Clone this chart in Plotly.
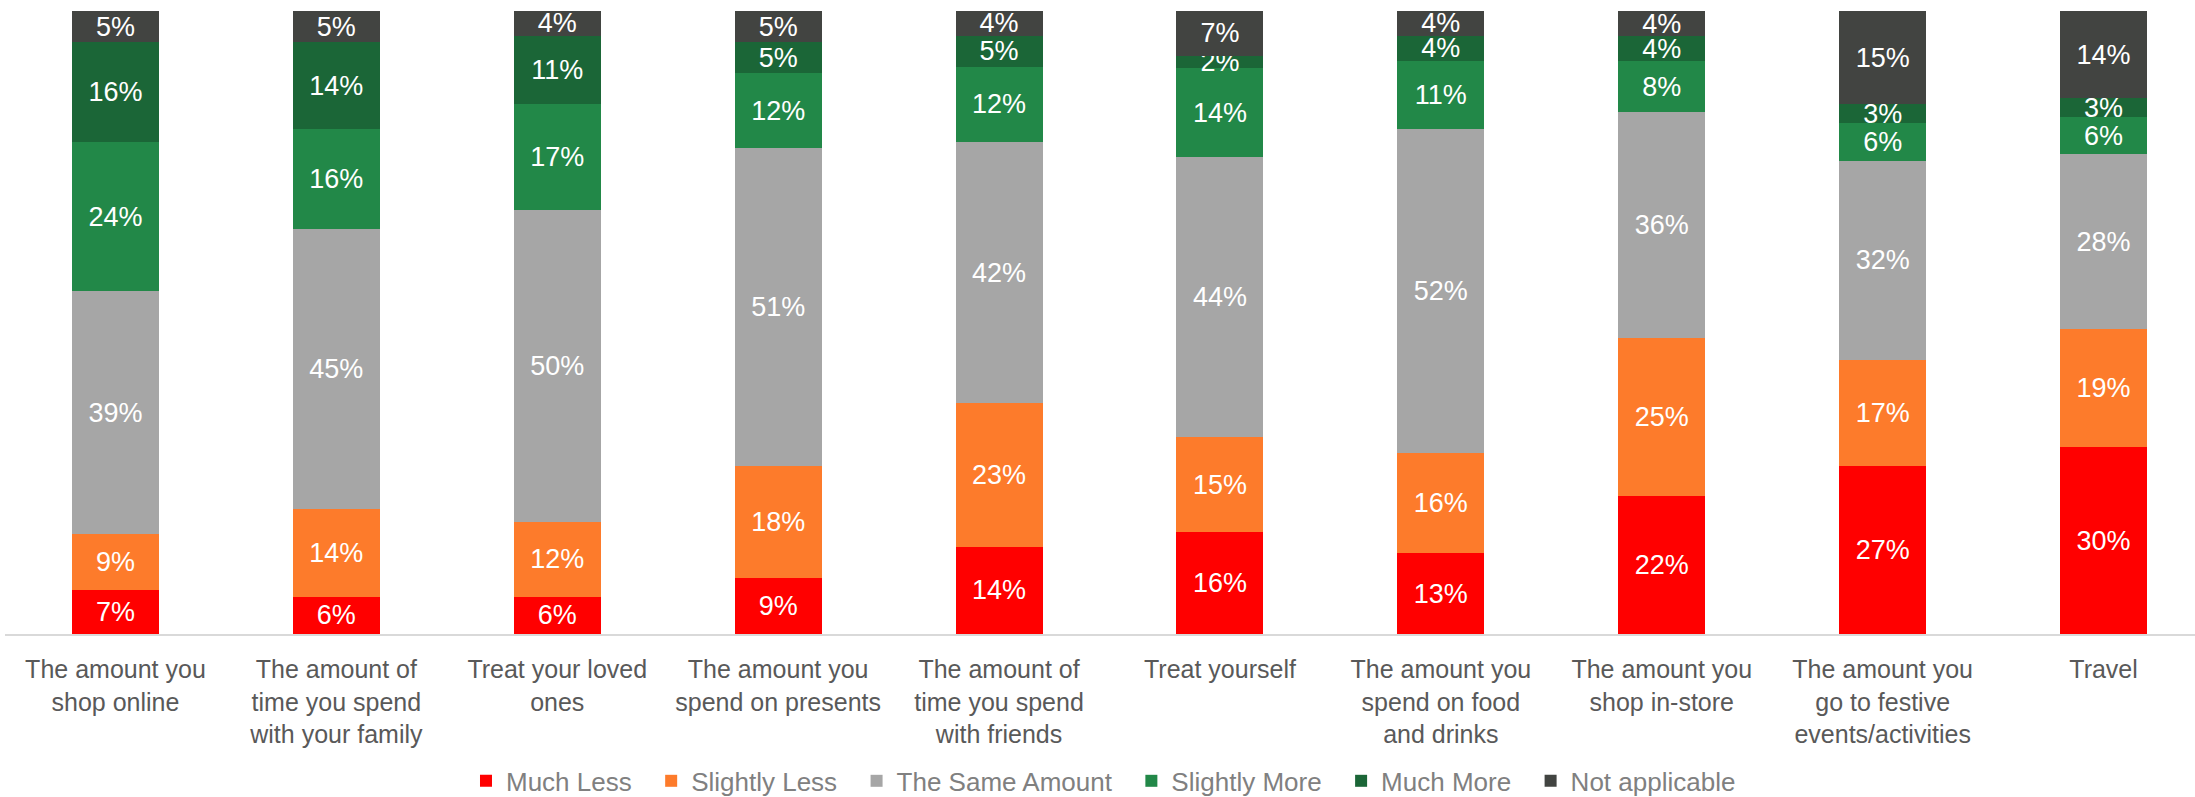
import plotly.graph_objects as go

categories = [
    "The amount you<br>shop online",
    "The amount of<br>time you spend<br>with your family",
    "Treat your loved<br>ones",
    "The amount you<br>spend on presents",
    "The amount of<br>time you spend<br>with friends",
    "Treat yourself",
    "The amount you<br>spend on food<br>and drinks",
    "The amount you<br>shop in-store",
    "The amount you<br>go to festive<br>events/activities",
    "Travel",
]

much_less = [7, 6, 6, 9, 14, 16, 13, 22, 27, 30]
slightly_less = [9, 14, 12, 18, 23, 15, 16, 25, 17, 19]
same_amount = [39, 45, 50, 51, 42, 44, 52, 36, 32, 28]
slightly_more = [24, 16, 17, 12, 12, 14, 11, 8, 6, 6]
much_more = [16, 14, 11, 5, 5, 2, 4, 4, 3, 3]
not_applicable = [5, 5, 4, 5, 4, 7, 4, 4, 15, 14]

series = [
    ("Much Less", much_less, "#FF0000"),
    ("Slightly Less", slightly_less, "#FD7B2B"),
    ("The Same Amount", same_amount, "#A6A6A6"),
    ("Slightly More", slightly_more, "#228848"),
    ("Much More", much_more, "#1B6637"),
    ("Not applicable", not_applicable, "#424441"),
]

fig = go.Figure()
xs = list(range(len(categories)))
for name, vals, color in series:
    fig.add_trace(go.Bar(
        name=name + "\u00a0\u00a0",
        x=xs,
        y=vals,
        marker=dict(color=color, line=dict(width=0)),
        text=[f"{v}%" for v in vals],
        textposition="inside",
        insidetextanchor="middle",
        textangle=0,
        textfont=dict(color="white", size=27, family="Liberation Sans, Arial, sans-serif"),
        hoverinfo="skip",
    ))

fig.update_layout(
    barmode="stack",
    barnorm="percent",
    bargap=0.606,
    width=2195,
    height=797,
    margin=dict(l=5, r=0, t=11, b=163, autoexpand=False),
    paper_bgcolor="white",
    plot_bgcolor="white",
    font=dict(family="Liberation Sans, Arial, sans-serif", color="#595959", size=24),
    uniformtext=dict(minsize=27, mode="show"),
    legend=dict(
        orientation="h",
        x=0.2105,
        xanchor="left",
        y=-0.2358,
        yanchor="middle",
        font=dict(size=26, color="#808080"),
        traceorder="normal",
        itemwidth=30,
    ),
    showlegend=True,
)
fig.update_xaxes(
    tickmode="array",
    tickvals=xs,
    ticktext=categories,
    range=[-0.5, 9.414],
    showline=True,
    linecolor="#D9D9D9",
    linewidth=2,
    ticks="outside",
    ticklen=12,
    tickcolor="rgba(0,0,0,0)",
    tickfont=dict(size=25, color="#595959"),
    showgrid=False,
    zeroline=False,
    automargin=False,
)
fig.update_yaxes(
    range=[0, 100],
    visible=False,
    showgrid=False,
    zeroline=False,
)

fig.write_html("out.html")
